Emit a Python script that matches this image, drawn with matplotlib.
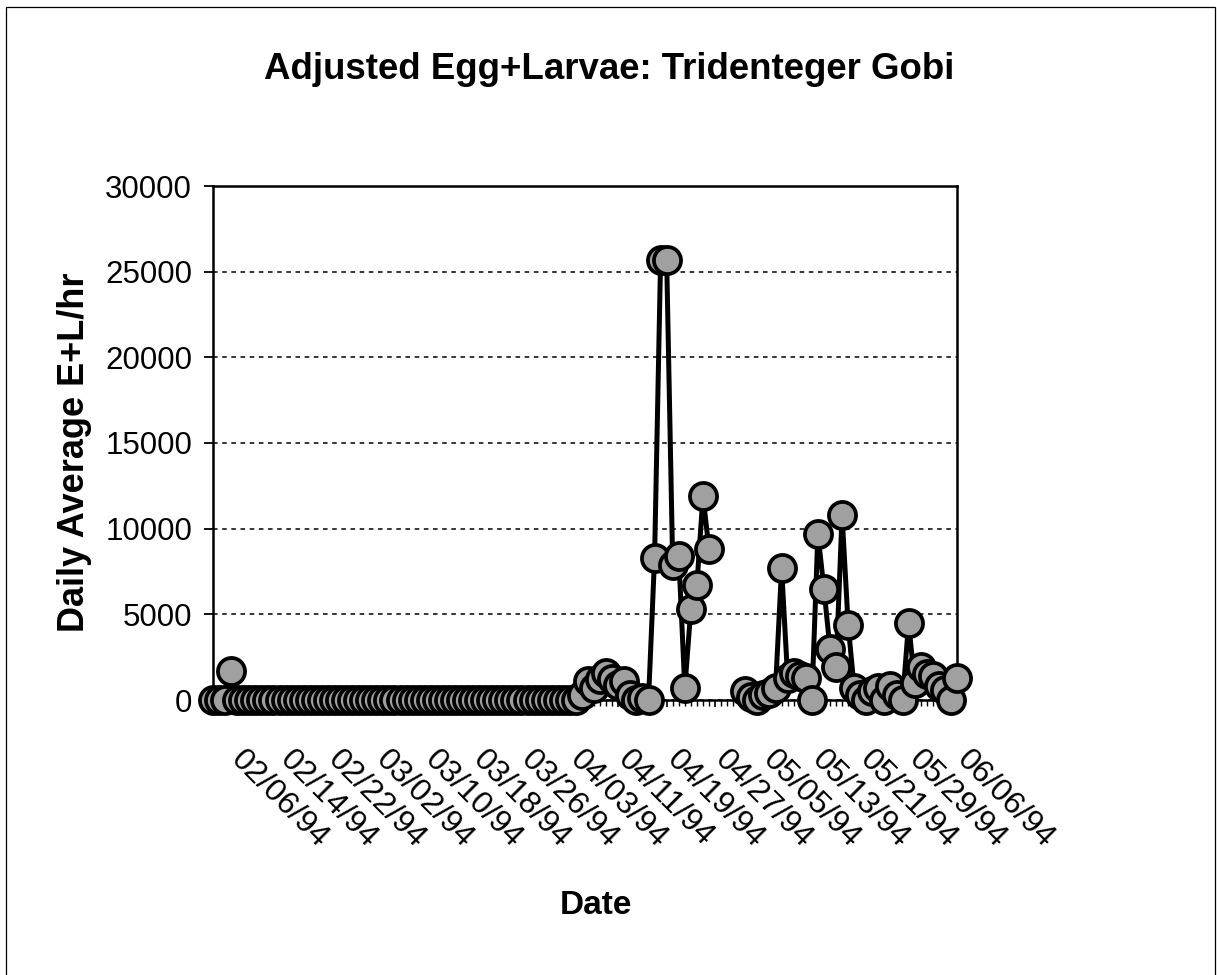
import numpy as np
import pandas as pd
import matplotlib
matplotlib.use('Agg')
import matplotlib.pyplot as plt
import matplotlib.dates as mdates
from matplotlib.transforms import ScaledTranslation
from matplotlib.patches import Rectangle

plt.rcParams['font.family'] = ['Liberation Sans', 'DejaVu Sans']

# ---------------------------------------------------------------------------
# daily values, 02/03/94 .. 06/06/94 (nan = no sample that day)
first_day = '1994-02-03'
last_day = '1994-06-06'
nan = np.nan
daily_el = [
    0, 0, 0, 1700, 0, 0, 0, 0, 0, 0,                  # Feb 03 - Feb 12
    0, 0, 0, 0, 0, 0, 0, 0, 0, 0,                     # Feb 13 - Feb 22
    0, 0, 0, 0, 0, 0, 0, 0, 0, 0,                     # Feb 23 - Mar 04
    0, 0, 0, 0, 0, 0, 0, 0, 0, 0,                     # Mar 05 - Mar 14
    0, 0, 0, 0, 0, 0, 0, 0, 0, 0,                     # Mar 15 - Mar 24
    0, 0, 0, 0, 0, 0, 0, 0, 0, 0,                     # Mar 25 - Apr 03
    0, 300, 1100, 700, 1200, 1600, 1200, 900, 1100, 300,   # Apr 04 - Apr 13
    0, 100, 0, 8300, 25700, 25700, 7900, 8400, 700, 5300,  # Apr 14 - Apr 23
    6700, 11900, 8800, nan, nan, nan, nan, nan, 500, 200,  # Apr 24 - May 03
    0, 300, 400, 700, 7700, 1300, 1600, 1400, 1300, 0,     # May 04 - May 13
    9700, 6500, 3000, 1900, 10800, 4400, 700, 300, 0, 500, # May 14 - May 23
    700, 0, 800, 300, 0, 4500, 1000, 1900, 1500, 1400,     # May 24 - Jun 02
    800, 600, 0, 1300,                                     # Jun 03 - Jun 06
]
tick_dates = ['1994-02-06', '1994-02-14', '1994-02-22', '1994-03-02',
              '1994-03-10', '1994-03-18', '1994-03-26', '1994-04-03',
              '1994-04-11', '1994-04-19', '1994-04-27', '1994-05-05',
              '1994-05-13', '1994-05-21', '1994-05-29', '1994-06-06']
tick_labels = ['02/06/94', '02/14/94', '02/22/94', '03/02/94',
               '03/10/94', '03/18/94', '03/26/94', '04/03/94',
               '04/11/94', '04/19/94', '04/27/94', '05/05/94',
               '05/13/94', '05/21/94', '05/29/94', '06/06/94']
y_ticks = [0, 5000, 10000, 15000, 20000, 25000, 30000]

# ---------------------------------------------------------------------------
W, H = 1217, 975
fig = plt.figure(figsize=(W / 100, H / 100), dpi=100)
ax = fig.add_axes([213 / W, 1 - 700 / H, (957 - 213) / W, (700 - 186) / H])

dates = pd.date_range(first_day, last_day, freq='D')
ax.plot(dates, daily_el, color='black', lw=3.6, marker='o', ms=19.5,
        mfc='#a0a0a0', mec='black', mew=2.7, clip_on=False, zorder=3)

ax.set_xlim(dates[0], dates[-1])
ax.set_ylim(0, 30000)
ax.set_yticks(y_ticks)
ax.set_yticklabels([str(v) for v in y_ticks], fontsize=22.5)
ax.set_xticks(pd.to_datetime(tick_dates))
ax.set_xticklabels(tick_labels, fontsize=23)
ax.xaxis.set_minor_locator(mdates.DayLocator())

ax.yaxis.grid(True, linestyle=(0, (3, 3)), color='black', lw=1.1)
ax.set_axisbelow(True)
for sp in ax.spines.values():
    sp.set_linewidth(1.8)
    sp.set_color('black')

ax.tick_params(axis='y', direction='out', length=6.5, width=1.3, pad=8.6)
ax.tick_params(axis='x', which='major', direction='out', length=5, width=1.2,
               pad=27)
ax.tick_params(axis='x', which='minor', direction='out', length=4, width=1.0)

shift = ScaledTranslation(0.15, 0, fig.dpi_scale_trans)
for lbl in ax.get_xticklabels():
    lbl.set_rotation(-45)
    lbl.set_ha('left')
    lbl.set_va('top')
    lbl.set_rotation_mode('anchor')
    lbl.set_transform(lbl.get_transform() + shift)

fig.text(609 / W, 1 - 79 / H, 'Adjusted Egg+Larvae: Tridenteger Gobi',
         ha='center', va='baseline', fontsize=26.4, fontweight='bold')
fig.text(75 / W, 1 - 452 / H, 'Daily Average E+L/hr', rotation=90,
         ha='center', va='center', fontsize=26, fontweight='bold')
fig.text(596 / W, 1 - 905 / H, 'Date', ha='center', va='center',
         fontsize=24, fontweight='bold')

# chart-area frame
fig.add_artist(Rectangle((6 / W, -0.01), (1215 - 6) / W, 1 - 7 / H + 0.01,
                         transform=fig.transFigure, fill=False,
                         edgecolor='black', lw=0.9))

fig.savefig('out.png', dpi=100)
